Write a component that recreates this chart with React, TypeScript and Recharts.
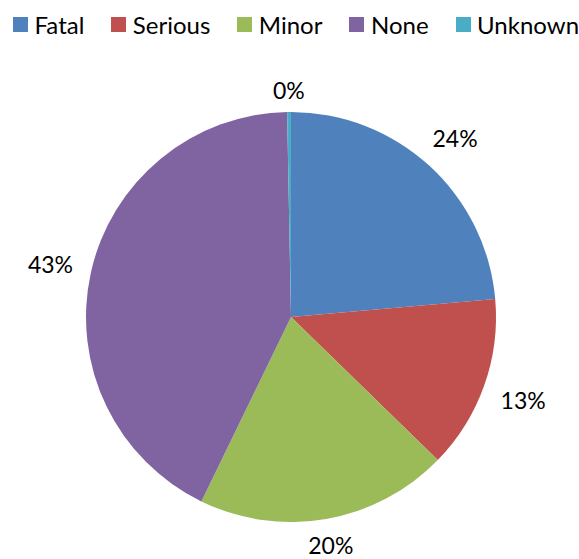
import { Cell, Pie, PieChart } from "recharts";

const categories = ["Fatal", "Serious", "Minor", "None", "Unknown"];
const shares = [23.6, 13.7, 19.9, 42.5, 0.3];
const labels = ["24%", "13%", "20%", "43%", "0%"];
const colors = ["#4F81BD", "#C0504D", "#9BBB59", "#8064A2", "#4BACC6"];

const data = categories.map((name, i) => ({
  name,
  value: shares[i],
  label: labels[i],
}));

const FONT = "Lato, 'Open Sans', sans-serif";
const RAD = Math.PI / 180;

function renderLabel(props: any) {
  const { cx, cy, midAngle, outerRadius, index } = props;
  const cos = Math.cos(-midAngle * RAD);
  const sin = Math.sin(-midAngle * RAD);
  // keep the label box a fixed gap off the rim
  const r = outerRadius + 13 + Math.abs(cos) * 27 + Math.abs(sin) * 9;
  return (
    <text
      x={cx + r * cos}
      y={cy + r * sin}
      textAnchor="middle"
      dominantBaseline="central"
      fill="#000"
      fontSize={23}
      fontFamily={FONT}
    >
      {labels[index]}
    </text>
  );
}

function ChartLegend() {
  return (
    <div
      style={{
        position: "absolute",
        left: 13,
        top: 10,
        display: "flex",
        alignItems: "center",
        fontFamily: FONT,
        fontSize: 24,
        color: "#000",
        whiteSpace: "nowrap",
      }}
    >
      {categories.map((c, i) => (
        <div
          key={c}
          style={{ display: "flex", alignItems: "center", marginRight: 27 }}
        >
          <span
            style={{
              display: "inline-block",
              width: 15,
              height: 15,
              background: colors[i],
              marginRight: 6.5,
            }}
          />
          {c}
        </div>
      ))}
    </div>
  );
}

export default function App() {
  return (
    <div
      style={{
        position: "absolute",
        left: 0,
        top: 0,
        width: 579,
        height: 559,
        overflow: "hidden",
        background: "#fff",
      }}
    >
      <PieChart width={579} height={559} margin={{ top: 0, right: 0, bottom: 0, left: 0 }}>
        <Pie
          data={data}
          dataKey="value"
          nameKey="name"
          cx={291}
          cy={317}
          outerRadius={205}
          startAngle={90}
          endAngle={-270}
          stroke="none"
          label={renderLabel}
          labelLine={false}
          isAnimationActive={false}
        >
          {data.map((d, i) => (
            <Cell key={d.name} fill={colors[i]} />
          ))}
        </Pie>
      </PieChart>
      <ChartLegend />
    </div>
  );
}
